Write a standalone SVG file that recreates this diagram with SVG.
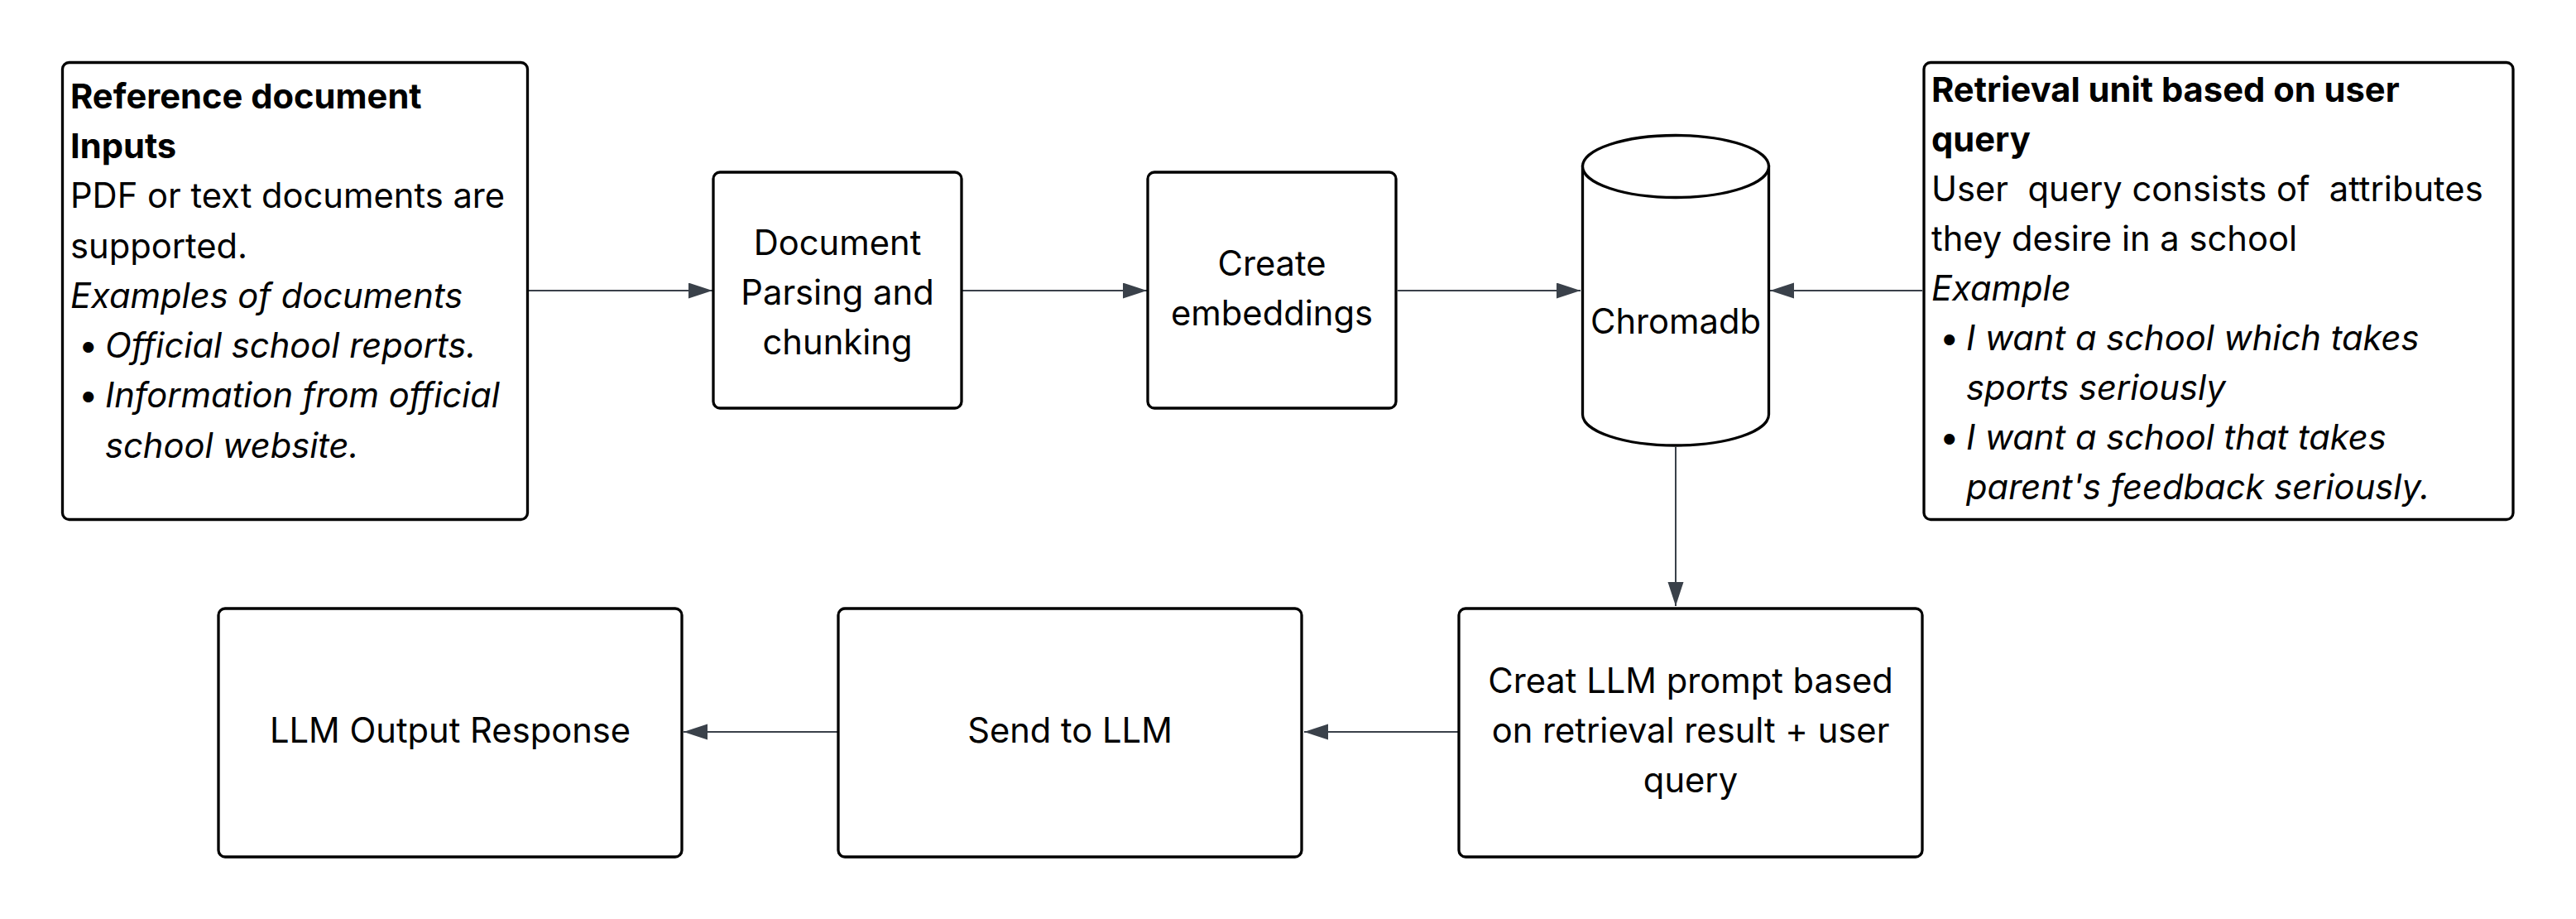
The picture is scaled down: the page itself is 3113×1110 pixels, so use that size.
<svg xmlns="http://www.w3.org/2000/svg" width="3113" height="1110" viewBox="0 0 3113 1110">
<style>
.box{fill:#ffffff;stroke:#000000;stroke-width:3.3}
.t{font-family:Inter,"Liberation Sans",sans-serif;font-size:41.7px;fill:#000000}
.c{text-anchor:middle}
.b{font-weight:bold}
.i{font-style:italic}
.conn{fill:none;stroke:#3a414a;stroke-width:2}
</style>
<defs>
<marker id="arr" markerUnits="userSpaceOnUse" markerWidth="30" markerHeight="20" refX="29" refY="9.5" orient="auto">
<path d="M0,0 L29,9.5 L0,19 Z" fill="#3a414a"/>
</marker>
</defs>
<rect width="3113" height="1110" fill="#ffffff"/>
<g id="connectors">
<line class="conn" x1="638" y1="351" x2="861" y2="351" marker-end="url(#arr)"/>
<line class="conn" x1="1163" y1="351" x2="1386" y2="351" marker-end="url(#arr)"/>
<line class="conn" x1="1689" y1="351" x2="1910" y2="351" marker-end="url(#arr)"/>
<line class="conn" x1="2323" y1="351" x2="2139" y2="351" marker-end="url(#arr)"/>
<line class="conn" x1="2025" y1="540" x2="2025" y2="732" marker-end="url(#arr)"/>
<line class="conn" x1="1762" y1="884" x2="1576" y2="884" marker-end="url(#arr)"/>
<line class="conn" x1="1012" y1="884" x2="826" y2="884" marker-end="url(#arr)"/>
</g>
<g id="reference-inputs">
<rect class="box" x="75.5" y="75.5" width="562" height="552" rx="8"/>
<text class="t b" x="85" y="131">Reference document</text>
<text class="t b" x="85" y="191">Inputs</text>
<text class="t" x="85" y="251">PDF or text documents are</text>
<text class="t" x="85" y="312">supported.</text>
<text class="t i" x="85" y="372">Examples of documents</text>
<text class="t" x="95" y="432">•</text>
<text class="t i" x="127" y="432">Official school reports.</text>
<text class="t" x="95" y="492">•</text>
<text class="t i" x="127" y="492">Information from official</text>
<text class="t i" x="127" y="553">school website.</text>
</g>
<g id="doc-parsing">
<rect class="box" x="862" y="208" width="300" height="285" rx="8"/>
<text class="t c" x="1012" y="308">Document</text>
<text class="t c" x="1012" y="368">Parsing and</text>
<text class="t c" x="1012" y="428">chunking</text>
</g>
<g id="create-embeddings">
<rect class="box" x="1387" y="208" width="300" height="285" rx="8"/>
<text class="t c" x="1537" y="333">Create</text>
<text class="t c" x="1537" y="393">embeddings</text>
</g>
<g id="chromadb">
<path class="box" d="M1912.5,201 L1912.5,500.5 A112.5,37.5 0 0 0 2137.5,500.5 L2137.5,201 Z"/>
<ellipse class="box" cx="2025" cy="201" rx="112.5" ry="37.5"/>
<text class="t c" x="2025" y="403">Chromadb</text>
</g>
<g id="retrieval-unit">
<rect class="box" x="2325" y="75.5" width="712" height="552" rx="8"/>
<text class="t b" x="2334" y="123">Retrieval unit based on user</text>
<text class="t b" x="2334" y="183">query</text>
<text class="t" x="2334" y="243" xml:space="preserve">User  query consists of  attributes</text>
<text class="t" x="2334" y="303">they desire in a school</text>
<text class="t i" x="2334" y="363">Example</text>
<text class="t" x="2344" y="423">•</text>
<text class="t i" x="2376" y="423">I want a school which takes</text>
<text class="t i" x="2376" y="483">sports seriously</text>
<text class="t" x="2344" y="543">•</text>
<text class="t i" x="2376" y="543">I want a school that takes</text>
<text class="t i" x="2376" y="603">parent's feedback seriously.</text>
</g>
<g id="creat-prompt">
<rect class="box" x="1763" y="735" width="560" height="300" rx="8"/>
<text class="t c" x="2043" y="837">Creat LLM prompt based</text>
<text class="t c" x="2043" y="897">on retrieval result + user</text>
<text class="t c" x="2043" y="957">query</text>
</g>
<g id="send-to-llm">
<rect class="box" x="1013" y="735" width="560" height="300" rx="8"/>
<text class="t c" x="1293" y="897">Send to LLM</text>
</g>
<g id="llm-output">
<rect class="box" x="264" y="735" width="560" height="300" rx="8"/>
<text class="t c" x="544" y="897">LLM Output Response</text>
</g>
</svg>
